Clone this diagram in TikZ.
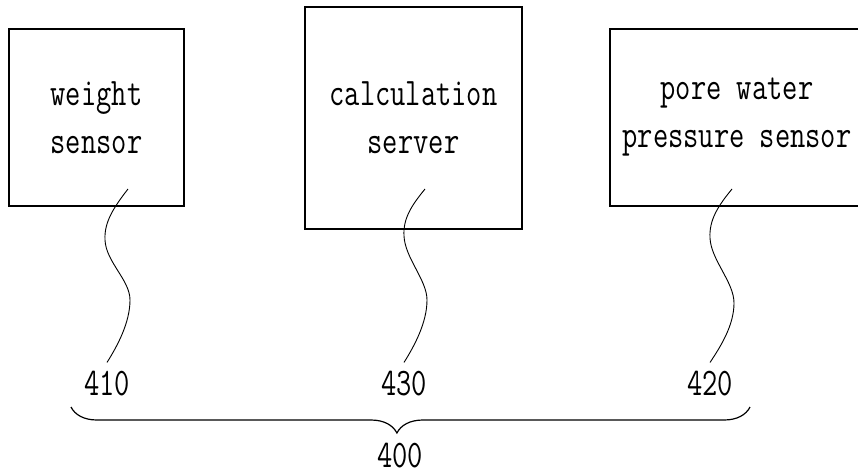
\documentclass[tikz,border=0pt]{standalone}
\usepackage{graphicx}
\usetikzlibrary{decorations.pathreplacing}
\newcommand{\slim}[1]{\scalebox{0.76}[1]{#1}}

\begin{document}
\begin{tikzpicture}[x=1pt, y=-1pt,
      every node/.style = {font=\fontsize{39}{48}\selectfont\ttfamily},
      unit/.style = {draw, line width=1.6pt, inner sep=0pt, align=center},
      tag/.style = {anchor=base, inner sep=8pt},
      lead/.style = {line width=0.9pt}]
    \useasboundingbox (0,0) rectangle (858,475);
    % the three units
    \node[unit, minimum width=175, minimum height=177] (ws) at (96.5,117.5) {\slim{weight}\\\slim{sensor}};
    \node[unit, minimum width=217, minimum height=222] (cs) at (413.5,118) {\slim{calculation}\\\slim{server}};
    \node[unit, minimum width=254, minimum height=177] (ps) at (737,117.5) {\slim{pore water}\\\slim{pressure sensor}};
    % reference numerals
    \node[tag] (n410) at (107,395) {\slim{410}};
    \node[tag] (n430) at (404,395) {\slim{430}};
    \node[tag] (n420) at (710,395) {\slim{420}};
    \node[tag] (n400) at (400,467) {\slim{400}};
    % leader lines
    \coordinate (p410) at (128,189);
    \coordinate (p430) at (425,189);
    \coordinate (p420) at (732,189);
    \draw[lead] (p410) .. controls (114,207) and (104,222) .. (105,240)
      .. controls (106,262) and (130,280) .. (130,300)
      .. controls (130,322) and (118,345) .. (n410.north);
    \draw[lead] (p430) .. controls (411,206) and (403,219) .. (404,236)
      .. controls (405,258) and (427,280) .. (427,300)
      .. controls (427,322) and (415,345) .. (n430.north);
    \draw[lead] (p420) .. controls (718,206) and (709,220) .. (710,238)
      .. controls (711,260) and (734,282) .. (734,303)
      .. controls (734,325) and (721,346) .. (n420.north);
    % brace round the whole system
    \coordinate (bl) at (71,407);
    \coordinate (br) at (750,407);
    \draw[decorate, decoration={brace, mirror, amplitude=26pt, aspect=0.48},
      line width=1.2pt] (bl) -- (br);
\end{tikzpicture}
\end{document}
